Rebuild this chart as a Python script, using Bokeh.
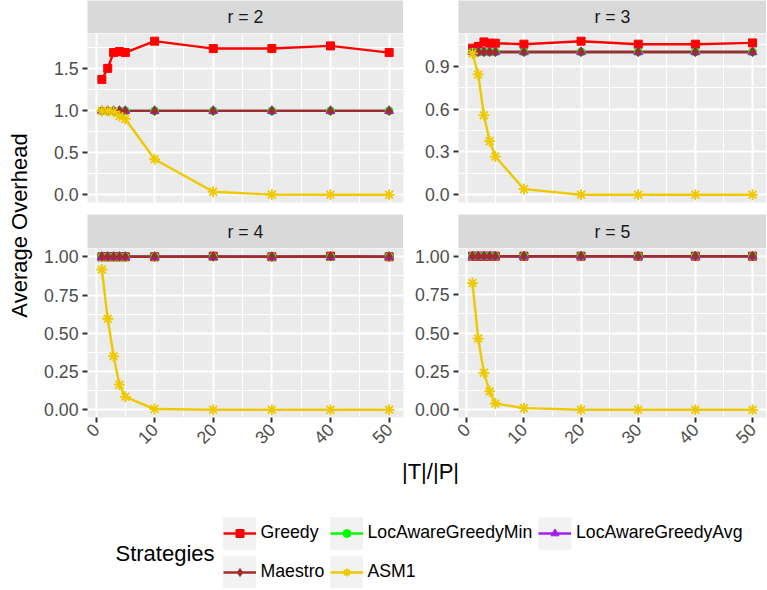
import math
from bokeh.plotting import figure
from bokeh.layouts import row, column
from bokeh.models import Range1d, FixedTicker, NumeralTickFormatter, Legend, LegendItem, Spacer
from bokeh.core.properties import value
from bokeh.embed import file_html
from bokeh.resources import INLINE

FONT = "Liberation Sans"

# ---------------- data ----------------
x_ratio = [1, 2, 3, 4, 5, 10, 20, 30, 40, 50]
strategies = ["Greedy", "LocAwareGreedyMin", "LocAwareGreedyAvg", "Maestro", "ASM1"]
facet_labels = ["r = 2", "r = 3", "r = 4", "r = 5"]

greedy_r2 = [1.375, 1.507, 1.695, 1.707, 1.695, 1.831, 1.743, 1.743, 1.775, 1.695]
locmin_r2 = [1.0, 1.0, 1.0, 1.0, 1.0, 1.0, 1.0, 1.0, 1.0, 1.0]
locavg_r2 = [1.0, 1.0, 1.0, 1.0, 1.0, 1.0, 1.0, 1.0, 1.0, 1.0]
maestro_r2 = [1.0, 1.0, 1.0, 1.0, 1.0, 1.0, 1.0, 1.0, 1.0, 1.0]
asm1_r2 = [1.0, 1.0, 0.99, 0.94, 0.904, 0.424, 0.036, 0.002, 0.0, 0.0]

greedy_r3 = [1.027, 1.039, 1.071, 1.062, 1.062, 1.055, 1.076, 1.055, 1.055, 1.064]
locmin_r3 = [1.0, 1.0, 1.0, 1.0, 1.0, 1.0, 1.0, 1.0, 1.0, 1.0]
locavg_r3 = [1.0, 1.0, 1.0, 1.0, 1.0, 1.0, 1.0, 1.0, 1.0, 1.0]
maestro_r3 = [1.0, 1.0, 1.0, 1.0, 1.0, 1.0, 1.0, 1.0, 1.0, 1.0]
asm1_r3 = [0.99, 0.843, 0.557, 0.376, 0.268, 0.040, 0.0, 0.0, 0.0, 0.0]

greedy_r4 = [1.0, 1.0, 1.0, 1.0, 1.0, 1.0, 1.004, 1.0, 1.004, 1.0]
locmin_r4 = [1.0, 1.0, 1.0, 1.0, 1.0, 1.0, 1.0, 1.0, 1.0, 1.0]
locavg_r4 = [1.0, 1.0, 1.0, 1.0, 1.0, 1.0, 1.0, 1.0, 1.0, 1.0]
maestro_r4 = [1.0, 1.0, 1.0, 1.0, 1.0, 1.0, 1.0, 1.0, 1.002, 1.0]
asm1_r4 = [0.917, 0.595, 0.350, 0.164, 0.085, 0.005, 0.0, 0.0, 0.0, 0.0]

greedy_r5 = [1.0, 1.0, 1.0, 1.0, 1.0, 1.0, 1.0, 1.0, 1.0, 1.0]
locmin_r5 = [1.0, 1.0, 1.0, 1.0, 1.0, 1.0, 1.0, 1.0, 1.0, 1.0]
locavg_r5 = [1.0, 1.0, 1.0, 1.0, 1.0, 1.0, 1.0, 1.0, 1.0, 1.0]
maestro_r5 = [1.0, 1.0, 1.0, 1.0, 1.0, 1.0, 1.0, 1.0, 1.0, 1.0]
asm1_r5 = [0.825, 0.464, 0.241, 0.120, 0.041, 0.011, 0.0, 0.0, 0.0, 0.0]

x_ticks = [0, 10, 20, 30, 40, 50]
y_ticks_r2 = [0.0, 0.5, 1.0, 1.5]
y_ticks_r3 = [0.0, 0.3, 0.6, 0.9]
y_ticks_r4 = [0.0, 0.25, 0.5, 0.75, 1.0]
y_ticks_r5 = [0.0, 0.25, 0.5, 0.75, 1.0]
y_label_formats = ["0.0", "0.0", "0.00", "0.00"]

x_title = "|T|/|P|"
y_title = "Average Overhead"
legend_title = "Strategies"

# ---------------- styles ----------------
colors = {"Greedy": "#FF0000", "LocAwareGreedyMin": "#00FF00", "LocAwareGreedyAvg": "#A020F0",
          "Maestro": "#A52A2A", "ASM1": "#EEC900"}
markers = {"Greedy": "square", "LocAwareGreedyMin": "circle", "LocAwareGreedyAvg": "triangle",
           "Maestro": "diamond", "ASM1": "asterisk"}
msizes = {"Greedy": 8, "LocAwareGreedyMin": 8, "LocAwareGreedyAvg": 9, "Maestro": 9, "ASM1": 11}
mwidths = {"Greedy": 1, "LocAwareGreedyMin": 1, "LocAwareGreedyAvg": 1, "Maestro": 1, "ASM1": 1.8}

YT_W = 40
LEFT_B = 47
LEFT_W = 316
MID_R = 4
RIGHT_L = 51
RIGHT_W = 308
TOTAL_W = YT_W + LEFT_B + LEFT_W + MID_R + RIGHT_L + RIGHT_W  # 766
STRIP1_H = 33
STRIP2_H = 34
FRAME_H = 169
ROW_GAP = 12
BOTTOM_AXIS = 40
BOTTOM_H = 131

TICK_FONT = "17.7px"
TITLE_FONT = "22px"


def minor_between(ticks):
    step = ticks[1] - ticks[0]
    out = [ticks[0] - step / 2]
    for a, b in zip(ticks[:-1], ticks[1:]):
        out.append((a + b) / 2)
    out.append(ticks[-1] + step / 2)
    return out


xlo = min(x_ratio) - 0.05 * (max(x_ratio) - min(x_ratio))
xhi = max(x_ratio) + 0.05 * (max(x_ratio) - min(x_ratio))


def make_panel(series, yticks, fmt, show_x, left_b, frame_w, right_b):
    allv = [v for s in series for v in s]
    lo, hi = min(allv), max(allv)
    pad = 0.05 * (hi - lo)
    ylo, yhi = lo - pad, hi + pad
    bottom = BOTTOM_AXIS if show_x else ROW_GAP
    p = figure(width=left_b + frame_w + right_b, height=FRAME_H + bottom,
               x_range=Range1d(xlo, xhi), y_range=Range1d(ylo, yhi),
               output_backend="svg", toolbar_location=None,
               x_axis_location="below" if show_x else None,
               min_border_left=left_b, min_border_right=right_b,
               min_border_top=0, min_border_bottom=bottom)
    p.background_fill_color = "#EBEBEB"
    p.border_fill_color = "white"
    p.outline_line_color = None

    xminor = [m for m in minor_between(x_ticks) if xlo <= m <= xhi]
    yminor = [m for m in minor_between(yticks) if ylo <= m <= yhi]
    xt = FixedTicker(ticks=x_ticks, minor_ticks=xminor)
    yt = FixedTicker(ticks=yticks, minor_ticks=yminor)
    p.xgrid.ticker = xt
    p.ygrid.ticker = yt
    for g in (p.xgrid, p.ygrid):
        g.grid_line_color = "white"
        g.grid_line_width = 2
        g.minor_grid_line_color = "white"
        g.minor_grid_line_width = 1

    axes = [p.yaxis[0]] + ([p.xaxis[0]] if show_x else [])
    p.yaxis[0].ticker = yt
    p.yaxis[0].formatter = NumeralTickFormatter(format=fmt)
    if show_x:
        p.xaxis[0].ticker = xt
        p.xaxis[0].major_label_orientation = math.pi / 4
    for ax in axes:
        ax.axis_line_color = None
        ax.major_tick_line_color = "#333333"
        ax.major_tick_line_width = 2
        ax.major_tick_out = 5
        ax.major_tick_in = 0
        ax.minor_tick_line_color = None
        ax.major_label_standoff = 4
        ax.major_label_text_font = FONT
        ax.major_label_text_font_size = TICK_FONT
        ax.major_label_text_color = "#4D4D4D"

    for name, ys in zip(strategies, series):
        p.line(x_ratio, ys, line_color=colors[name], line_width=2.4)
    for name, ys in zip(strategies, series):
        p.scatter(x_ratio, ys, marker=markers[name], size=msizes[name],
                  fill_color=colors[name], line_color=colors[name], line_width=mwidths[name])
    return p


def make_strip(label, w, h):
    s = figure(width=w, height=h, x_range=Range1d(0, 1), y_range=Range1d(0, 1),
               output_backend="svg", toolbar_location=None,
               x_axis_location=None, y_axis_location=None, min_border=0)
    s.background_fill_color = "#D9D9D9"
    s.border_fill_color = "#D9D9D9"
    s.outline_line_color = None
    s.grid.visible = False
    s.text(x=[0.5], y=[0.5], text=[label], text_align="center", text_baseline="middle",
           text_font=value(FONT), text_font_size=TICK_FONT, text_color="#1A1A1A")
    return s


series_r2 = [greedy_r2, locmin_r2, locavg_r2, maestro_r2, asm1_r2]
series_r3 = [greedy_r3, locmin_r3, locavg_r3, maestro_r3, asm1_r3]
series_r4 = [greedy_r4, locmin_r4, locavg_r4, maestro_r4, asm1_r4]
series_r5 = [greedy_r5, locmin_r5, locavg_r5, maestro_r5, asm1_r5]

p2 = make_panel(series_r2, y_ticks_r2, y_label_formats[0], False, LEFT_B, LEFT_W, MID_R)
p3 = make_panel(series_r3, y_ticks_r3, y_label_formats[1], False, RIGHT_L, RIGHT_W, 0)
p4 = make_panel(series_r4, y_ticks_r4, y_label_formats[2], True, LEFT_B, LEFT_W, MID_R)
p5 = make_panel(series_r5, y_ticks_r5, y_label_formats[3], True, RIGHT_L, RIGHT_W, 0)


def strip_row(la, lb, h):
    return row(Spacer(width=LEFT_B, height=h), make_strip(la, LEFT_W, h),
               Spacer(width=MID_R + RIGHT_L, height=h), make_strip(lb, RIGHT_W, h), spacing=0)


panels_col = column(strip_row(facet_labels[0], facet_labels[1], STRIP1_H), row(p2, p3, spacing=0),
                    strip_row(facet_labels[2], facet_labels[3], STRIP2_H), row(p4, p5, spacing=0),
                    spacing=0)
PANELS_H = STRIP1_H + STRIP2_H + 2 * FRAME_H + ROW_GAP + BOTTOM_AXIS

# y title (centred on the panel area)
yt = figure(width=YT_W, height=PANELS_H, x_range=Range1d(0, YT_W), y_range=Range1d(0, PANELS_H),
            output_backend="svg", toolbar_location=None,
            x_axis_location=None, y_axis_location=None, min_border=0)
yt.outline_line_color = None
yt.grid.visible = False
panels_top = STRIP1_H
panels_bottom = STRIP1_H + FRAME_H + ROW_GAP + STRIP2_H + FRAME_H
ycenter = PANELS_H - (panels_top + panels_bottom) / 2
yt.text(x=[19], y=[ycenter], text=[y_title], angle=math.pi / 2, text_align="center",
        text_baseline="middle", text_font=value(FONT), text_font_size=TITLE_FONT, text_color="black")

# bottom: x title + legend
bf = figure(width=TOTAL_W, height=BOTTOM_H, x_range=Range1d(0, TOTAL_W), y_range=Range1d(0, BOTTOM_H),
            output_backend="svg", toolbar_location=None,
            x_axis_location=None, y_axis_location=None, min_border=0)
bf.outline_line_color = None
bf.grid.visible = False
bf.extra_y_ranges = {"hidden": Range1d(1000, 1001)}

bf.text(x=[430], y=[117], text=[x_title], text_align="center", text_baseline="middle",
        text_font=value(FONT), text_font_size=TITLE_FONT, text_color="black")
bf.text(x=[115], y=[35.5], text=[legend_title], text_align="left", text_baseline="middle",
        text_font=value(FONT), text_font_size=TITLE_FONT, text_color="black")

key_x = [222.5, 329.5, 538, 222.5, 329.5]
key_y = [55, 55, 55, 16, 16]
KEY_W, KEY_H = 33, 32.6
bf.rect(x=[k + KEY_W / 2 for k in key_x], y=key_y, width=KEY_W, height=KEY_H,
        fill_color="#F2F2F2", line_color=None)

for name, ys, kx, ky in zip(strategies, series_r2, key_x, key_y):
    lr = bf.line(x_ratio, ys, line_color=colors[name], line_width=2.4, y_range_name="hidden")
    sr = bf.scatter(x_ratio, ys, marker=markers[name], size=msizes[name], fill_color=colors[name],
                    line_color=colors[name], line_width=mwidths[name], y_range_name="hidden")
    lg = Legend(items=[LegendItem(label=name, renderers=[lr, sr])], location=(kx, ky - 10),
                glyph_width=33, glyph_height=20, label_height=20, label_standoff=5,
                padding=0, margin=0, spacing=0, border_line_color=None, background_fill_alpha=0,
                label_text_font=FONT, label_text_font_size=TICK_FONT, label_text_color="black")
    bf.add_layout(lg, "center")

layout = column(row(yt, panels_col, spacing=0), bf, spacing=0)

open("out.html", "w").write(file_html(layout, INLINE))
